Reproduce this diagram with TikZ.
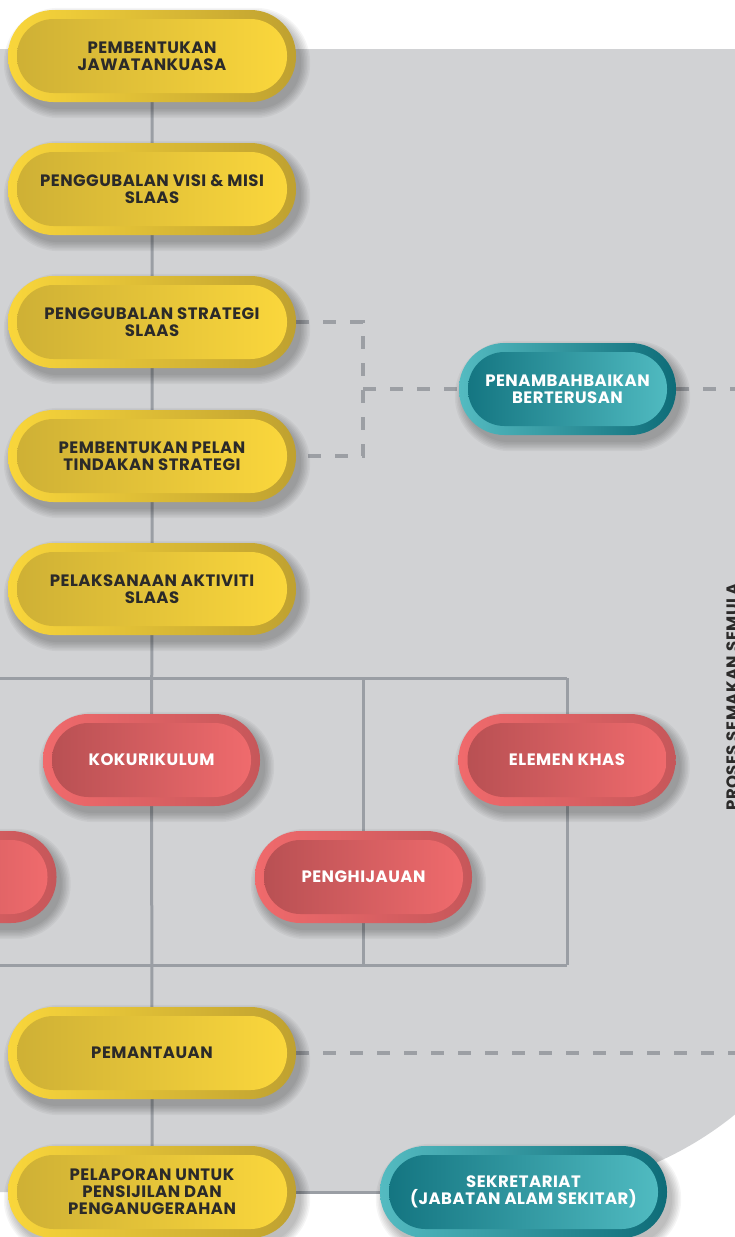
\documentclass[tikz,border=0pt]{standalone}
\usepackage{fontspec}
\setmainfont{Poppins}[LetterSpace=3]
\definecolor{bggray}{HTML}{D1D2D4}
\definecolor{lngray}{HTML}{9A9EA4}
\definecolor{dsgray}{HTML}{9C9FA4}
\definecolor{txtdark}{HTML}{2B2A29}
\definecolor{yl}{HTML}{F9D63B}
\definecolor{yd}{HTML}{BFA130}
\definecolor{yid}{HTML}{CDAF35}
\definecolor{yil}{HTML}{FCD83C}
\definecolor{rl}{HTML}{F06A6C}
\definecolor{rd}{HTML}{C6575A}
\definecolor{rid}{HTML}{B64F52}
\definecolor{ril}{HTML}{F26C6E}
\definecolor{tl}{HTML}{54BBC1}
\definecolor{td}{HTML}{0E6C78}
\definecolor{tid}{HTML}{12737F}
\definecolor{til}{HTML}{52BDC3}
\pgfdeclarelayer{back}
\pgfdeclarelayer{lines}
\pgfdeclarelayer{shadow}
\pgfsetlayers{back,lines,shadow,main}
\newcommand{\pillshadow}[1]{%
  \begin{pgfonlayer}{shadow}
  \foreach \d in {0,1.5,...,9}{%
    \pgfmathsetmacro{\rr}{46+\d}%
    \fill[black, opacity=0.04, rounded corners=\rr pt]
      ([shift={(5pt-\d pt,-7pt+\d pt)}]#1.north west) rectangle
      ([shift={(5pt+\d pt,-7pt-\d pt)}]#1.south east);}
  \end{pgfonlayer}}
\tikzset{
  pillbase/.style={rectangle, rounded corners=45.5pt, minimum height=92pt,
    inner sep=0pt, align=center,
    font=\fontsize{16.5}{17}\selectfont\bfseries},
  inner/.style 2 args={path picture={\shade[left color=#1, right color=#2, rounded corners=36.5pt]
      ([shift={(9pt,-9pt)}]path picture bounding box.north west) rectangle
      ([shift={(-9pt,9pt)}]path picture bounding box.south east);}},
  ypill/.style={pillbase, minimum width=288pt, left color=yl, right color=yd,
    text=txtdark, inner={yid}{yil}},
  rpill/.style={pillbase, minimum width=217pt, left color=rl, right color=rd,
    text=white, inner={rid}{ril}},
  tpill/.style={pillbase, left color=tl, right color=td,
    text=white, inner={tid}{til}},
  conn/.style={draw=lngray, line width=3pt},
  dconn/.style={draw=dsgray, line width=3.2pt, dash pattern=on 13pt off 14pt},
}
\begin{document}
\begin{tikzpicture}[x=1pt,y=-1pt]
\useasboundingbox (0,0) rectangle (734,1237);
\begin{pgfonlayer}{back}
\fill[white] (0,0) rectangle (734,1237);
\fill[bggray] (-10,49) -- (864,49) -- (864,844) arc[start angle=0, end angle=-90, radius=348pt] -- (-10,1192) -- cycle;
\end{pgfonlayer}

% yellow steps
\node[ypill] (p1) at (152,56) {PEMBENTUKAN\\JAWATANKUASA};
\node[ypill] (p2) at (152,189) {PENGGUBALAN VISI \& MISI\\SLAAS};
\node[ypill] (p3) at (152,322) {PENGGUBALAN STRATEGI\\SLAAS};
\node[ypill] (p4) at (152,456) {PEMBENTUKAN PELAN\\TINDAKAN STRATEGI};
\node[ypill] (p5) at (152,589) {PELAKSANAAN AKTIVITI\\SLAAS};
\node[ypill] (p6) at (152,1053) {PEMANTAUAN};
\node[ypill] (p7) at (152,1192) {PELAPORAN UNTUK\\PENSIJILAN DAN\\PENGANUGERAHAN};

% teal
\node[tpill, minimum width=217pt] (pb) at (567.5,389) {PENAMBAHBAIKAN\\BERTERUSAN};
\node[tpill, minimum width=287pt] (sk) at (523.5,1192) {SEKRETARIAT\\(JABATAN ALAM SEKITAR)};

% red
\node[rpill] (kk) at (151.5,760) {KOKURIKULUM};
\node[rpill] (ek) at (567,760) {ELEMEN KHAS};
\node[rpill] (ph) at (363.5,877) {PENGHIJAUAN};
\node[rpill] (lr) at (-52,877) {};

\foreach \n in {p1,p2,p3,p4,p5,p6,p7,pb,sk,kk,ek,ph,lr}{\pillshadow{\n}}

% side label
\node[rotate=90, text=txtdark, font=\fontsize{16.5}{17}\selectfont\bfseries, inner sep=0pt] (rv) at (733,697) {PROSES SEMAKAN SEMULA};

\coordinate (top) at (151,678);
\coordinate (bot) at (151,965);
\coordinate (dj) at (363,389);
\coordinate (r1) at (740,389);
\coordinate (r2) at (740,1053);

\begin{pgfonlayer}{lines}
\draw[conn] (p1) -- (p2) -- (p3) -- (p4) -- (p5) -- (kk) -- (p6) -- (p7);
\draw[conn] (lr |- top) -- (ek |- top);
\draw[conn] (lr |- bot) -- (ek |- bot);
\draw[conn] (lr |- top) -- (lr |- bot);
\draw[conn] (ph |- top) -- (ph |- bot);
\draw[conn] (ek |- top) -- (ek |- bot);
\draw[conn] (p7) -- (sk);
\draw[dconn] (p3.east) -| (dj) |- (p4.east);
\draw[dconn] (dj) -- (pb.west);
\draw[dconn] (pb.east) -- (r1);
\draw[dconn] (p6.east) -- (r2);
\end{pgfonlayer}
\end{tikzpicture}
\end{document}
